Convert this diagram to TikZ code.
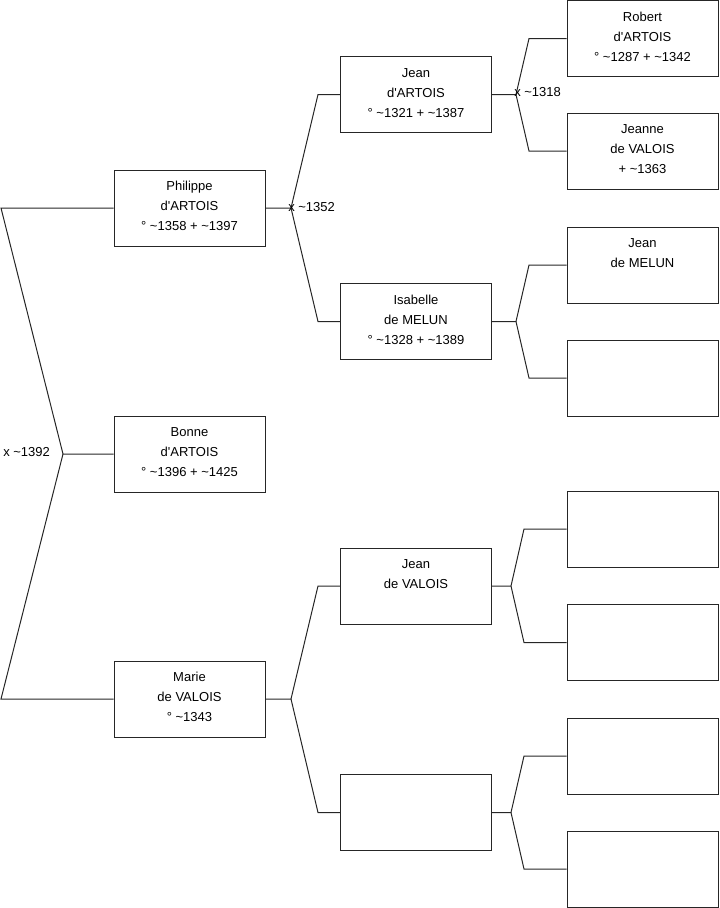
\documentclass[tikz,border=0pt]{standalone}
\usepackage{fontspec}
\setmainfont{Liberation Sans}
\usetikzlibrary{calc}
\newcommand{\apo}{\textquotesingle}
\begin{document}
\begin{tikzpicture}[x=0.75pt,y=-0.75pt,
  box/.style={draw=black!85,line width=0.75pt,minimum width=113.25pt,minimum height=57pt,inner sep=0pt,fill=white},
  txt/.style={anchor=base,align=center,font=\fontsize{9.75pt}{15pt}\selectfont,inner sep=0pt},
  lbl/.style={font=\fontsize{9.75pt}{15pt}\selectfont,inner sep=0pt},
  conn/.style={draw=black!85,line width=0.75pt}]
\useasboundingbox (0,0) rectangle (719,908);
% column 1
\node[box] (p) at (189.5,208) {};
\node[box] (b) at (189.5,454) {};
\node[box] (m) at (189.5,699) {};
% column 2
\node[box] (ja) at (416,94.5) {};
\node[box] (is) at (416,321.5) {};
\node[box] (jv) at (416,586) {};
\node[box] (e2) at (416,812.5) {};
% column 3
\node[box] (r) at (642.5,38.5) {};
\node[box] (jn) at (642.5,151) {};
\node[box] (jm) at (642.5,265) {};
\node[box] (e31) at (642.5,378) {};
\node[box] (e32) at (642.5,529) {};
\node[box] (e33) at (642.5,642.5) {};
\node[box] (e34) at (642.5,756) {};
\node[box] (e35) at (642.5,869) {};
% texts (anchor = baseline of last line)
\node[txt] (pt) at ($(p.north)+(0,61)$) {Philippe\\d\apo ARTOIS\\° \textasciitilde1358 + \textasciitilde1397};
\node[txt] (bt) at ($(b.north)+(0,61)$) {Bonne\\d\apo ARTOIS\\° \textasciitilde1396 + \textasciitilde1425};
\node[txt] (mt) at ($(m.north)+(0,61)$) {Marie\\de VALOIS\\° \textasciitilde1343};
\node[txt] (jat) at ($(ja.north)+(0,61)$) {Jean\\d\apo ARTOIS\\° \textasciitilde1321 + \textasciitilde1387};
\node[txt] (ist) at ($(is.north)+(0,61)$) {Isabelle\\de MELUN\\° \textasciitilde1328 + \textasciitilde1389};
\node[txt] (jvt) at ($(jv.north)+(0,41)$) {Jean\\de VALOIS};
\node[txt] (rt) at ($(r.north)+(0,61)$) {Robert\\d\apo ARTOIS\\° \textasciitilde1287 + \textasciitilde1342};
\node[txt] (jnt) at ($(jn.north)+(0,61)$) {Jeanne\\de VALOIS\\+ \textasciitilde1363};
\node[txt] (jmt) at ($(jm.north)+(0,41)$) {Jean\\de MELUN};
% junction coordinates
\coordinate (j1) at (63,454);
\coordinate (j1a) at (1,208);
\coordinate (j1b) at (1,699);
\coordinate (j2) at (291,208);
\coordinate (j2a) at (318,94.5);
\coordinate (j2b) at (318,321.5);
\coordinate (j3) at (291,699);
\coordinate (j3a) at (318,586);
\coordinate (j3b) at (318,812.5);
\coordinate (j4) at (516,94.5);
\coordinate (j4a) at (529,38.5);
\coordinate (j4b) at (529,151);
\coordinate (j5) at (516,321.5);
\coordinate (j5a) at (529,265);
\coordinate (j5b) at (529,378);
\coordinate (j6) at (511,586);
\coordinate (j6a) at (524,529);
\coordinate (j6b) at (524,642.5);
\coordinate (j7) at (511,812.5);
\coordinate (j7a) at (524,756);
\coordinate (j7b) at (524,869);
% connectors
\draw[conn] (b.west) -- (j1) -- (j1a) -- (p.west);
\draw[conn] (j1) -- (j1b) -- (m.west);
\draw[conn] (p.east) -- (j2) -- (j2a) -- (ja.west);
\draw[conn] (j2) -- (j2b) -- (is.west);
\draw[conn] (m.east) -- (j3) -- (j3a) -- (jv.west);
\draw[conn] (j3) -- (j3b) -- (e2.west);
\draw[conn] (ja.east) -- (j4) -- (j4a) -- (r.west);
\draw[conn] (j4) -- (j4b) -- (jn.west);
\draw[conn] (is.east) -- (j5) -- (j5a) -- (jm.west);
\draw[conn] (j5) -- (j5b) -- (e31.west);
\draw[conn] (jv.east) -- (j6) -- (j6a) -- (e32.west);
\draw[conn] (j6) -- (j6b) -- (e33.west);
\draw[conn] (e2.east) -- (j7) -- (j7a) -- (e34.west);
\draw[conn] (j7) -- (j7b) -- (e35.west);
% labels
\node[lbl,anchor=west] (l1) at (3,452) {x \textasciitilde1392};
\node[lbl,anchor=west] (l2) at (288,207) {x \textasciitilde1352};
\node[lbl,anchor=west] (l3) at (514,92) {x \textasciitilde1318};
\end{tikzpicture}
\end{document}
